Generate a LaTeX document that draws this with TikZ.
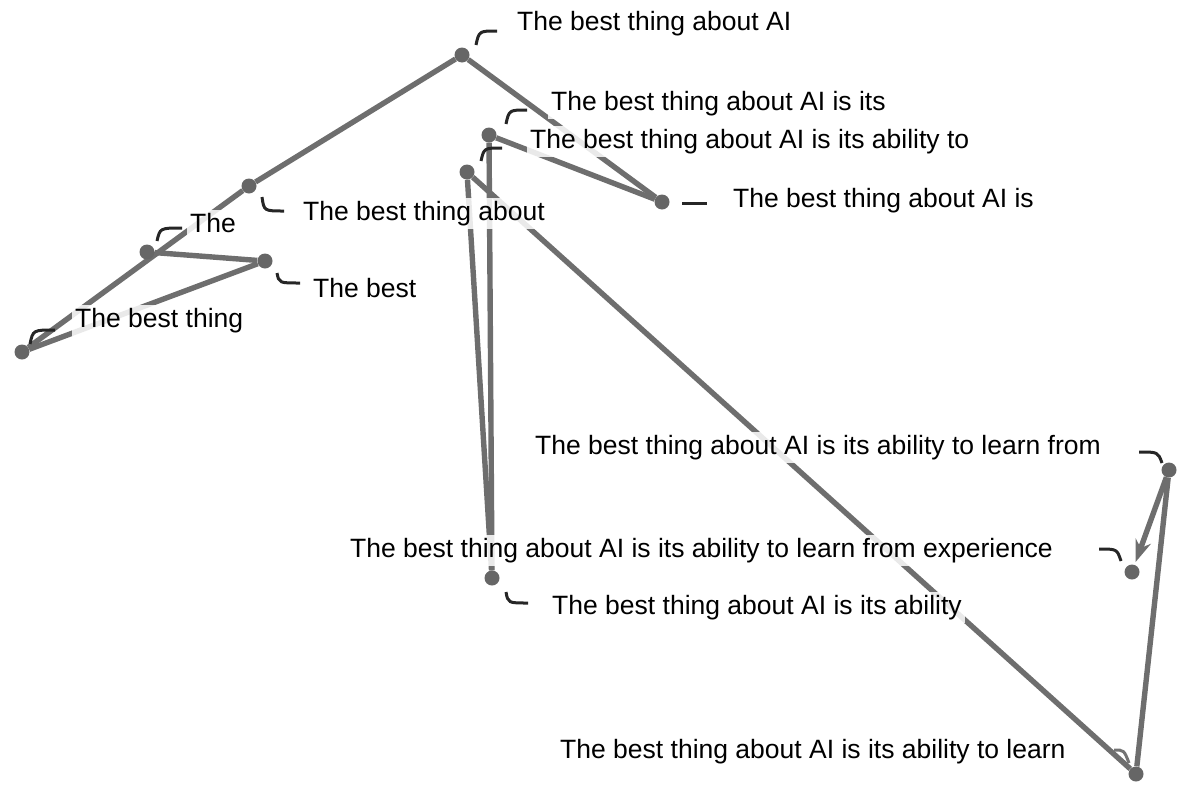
\documentclass[tikz,border=0pt]{standalone}
\usepackage{fontspec}
\setmainfont{Liberation Sans}
\usetikzlibrary{arrows.meta,backgrounds}
\definecolor{trail}{HTML}{6E6E6E}
\definecolor{dotc}{HTML}{666666}
\tikzset{
  pt/.style={circle,fill=dotc,inner sep=0pt,minimum size=15pt},
  lbl/.style={anchor=base west,inner sep=3pt,fill=white,fill opacity=0.85,text opacity=1,
              font=\fontsize{26.5}{30}\selectfont,text=black},
  edge/.style={draw=trail,line width=5.4pt},
  leader/.style={draw=black!85,line width=3pt},
}
\begin{document}
\begin{tikzpicture}[x=1pt,y=-1pt]
\useasboundingbox (0,0) rectangle (1177,790);

% token positions along the sentence
\node[pt] (p0)  at (147,252) {};
\node[pt] (p1)  at (265,261) {};
\node[pt] (p2)  at (22,352)  {};
\node[pt] (p3)  at (249,186) {};
\node[pt] (p4)  at (462,55)  {};
\node[pt] (p5)  at (662,202) {};
\node[pt] (p6)  at (489,135) {};
\node[pt] (p7)  at (492,578) {};
\node[pt] (p8)  at (467,172) {};
\node[pt] (p9)  at (1136,774) {};
\node[pt] (p10) at (1169,470) {};
\node[pt] (p11) at (1132,572) {};

% trajectory segments, behind everything else
\begin{scope}[on background layer]
  \draw[edge] (p0) -- (p1);
  \draw[edge] (p1) -- (p2);
  \draw[edge] (p2) -- (p3);
  \draw[edge] (p3) -- (p4);
  \draw[edge] (p4) -- (p5);
  \draw[edge] (p5) -- (p6);
  \draw[edge] (p6) -- (p7);
  \draw[edge] (p7) -- (p8);
  \draw[edge] (p8) -- (p9);
  \draw[edge] (p9) -- (p10);
  \draw[edge,-{Stealth[length=22pt,width=16pt]},shorten >=3pt] (p10) -- (p11);
\end{scope}

% prefix labels
\node[lbl] (t0)  at (187,232) {The};
\node[lbl] (t1)  at (310,297) {The best};
\node[lbl] (t2)  at (72,327)  {The best thing};
\node[lbl] (t3)  at (300,220) {The best thing about};
\node[lbl] (t4)  at (514,30)  {The best thing about AI};
\node[lbl] (t5)  at (730,207) {The best thing about AI is};
\node[lbl] (t6)  at (548,110) {The best thing about AI is its};
\node[lbl] (t7)  at (549,614) {The best thing about AI is its ability};
\node[lbl] (t8)  at (527,148) {The best thing about AI is its ability to};
\node[lbl] (t9)  at (557,758) {The best thing about AI is its ability to learn};
\node[lbl] (t10) at (532,454) {The best thing about AI is its ability to learn from};
\node[lbl] (t11) at (347,557) {The best thing about AI is its ability to learn from experience};

% leader ticks between dots and labels
\coordinate (a0) at (157,241);  \coordinate (b0) at (182,228);
\coordinate (a1) at (277,273);  \coordinate (b1) at (300,283);
\coordinate (a2) at (30,344);   \coordinate (b2) at (55,330);
\coordinate (a3) at (262,197);  \coordinate (b3) at (284,211);
\coordinate (a4) at (476,45);   \coordinate (b4) at (497,31);
\coordinate (a5) at (682,203);  \coordinate (b5) at (707,203);
\coordinate (a6) at (506,124);  \coordinate (b6) at (527,110);
\coordinate (a7) at (506,592);  \coordinate (b7) at (528,603);
\coordinate (a8) at (481,161);  \coordinate (b8) at (502,148);
\coordinate (a9) at (1114,750); \coordinate (b9) at (1129,763);
\coordinate (a10) at (1139,452); \coordinate (b10) at (1162,463);
\coordinate (a11) at (1099,549); \coordinate (b11) at (1121,561);

\draw[leader] (a0) .. controls (160,228) .. (b0);
\draw[leader] (a1) .. controls (279,283) .. (b1);
\draw[leader] (a2) .. controls (33,330) .. (b2);
\draw[leader] (a3) .. controls (264,211) .. (b3);
\draw[leader] (a4) .. controls (479,31) .. (b4);
\draw[leader] (a5) -- (b5);
\draw[leader] (a6) .. controls (509,110) .. (b6);
\draw[leader] (a7) .. controls (508,603) .. (b7);
\draw[leader] (a8) .. controls (484,148) .. (b8);
\draw[leader,draw=black!55] (a9) .. controls (1124,750) .. (b9);
\draw[leader] (a10) .. controls (1158,452) .. (b10);
\draw[leader] (a11) .. controls (1117,549) .. (b11);
\end{tikzpicture}
\end{document}
